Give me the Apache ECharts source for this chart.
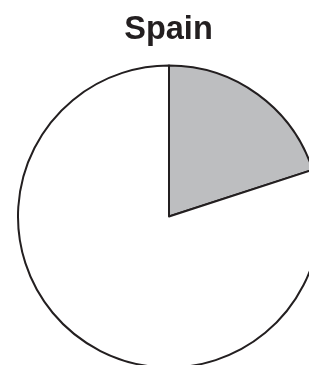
<!DOCTYPE html>
<html lang="en">
<head>
  <meta charset="UTF-8">
  <title>Spain</title>
  <style>
    html, body {margin: 0; padding: 0; background: #fff;}
    #chart {width: 309px; height: 365px;}
  </style>
</head>
<body>
  <div id="chart"></div>
  <script src="https://cdn.jsdelivr.net/npm/echarts@6/dist/echarts.min.js"></script>
  <script>
    var titleText = 'Spain';
    var sliceNames = ['Spain', 'Other'];
    var sliceValues = [20, 80];
    var sliceColors = ['#bdbec0', '#ffffff'];

    var chart = echarts.init(document.getElementById('chart'));

    var option = {
      animation: false,
      graphic: [{
        type: 'text',
        x: 168.5,
        y: 30,
        style: {
          text: titleText,
          textAlign: 'center',
          textVerticalAlign: 'middle',
          font: 'bold 32.5px "Liberation Sans", Arial, sans-serif',
          fill: '#231f20'
        }
      }],
      series: [{
        type: 'pie',
        center: [169, 216.5],
        radius: 151,
        startAngle: 90,
        clockwise: true,
        label: {show: false},
        labelLine: {show: false},
        emphasis: {disabled: true},
        itemStyle: {borderColor: '#231f20', borderWidth: 2},
        data: sliceNames.map(function (n, i) {
          return {name: n, value: sliceValues[i], itemStyle: {color: sliceColors[i]}};
        })
      }]
    };

    chart.setOption(option);
  </script>
</body>
</html>
